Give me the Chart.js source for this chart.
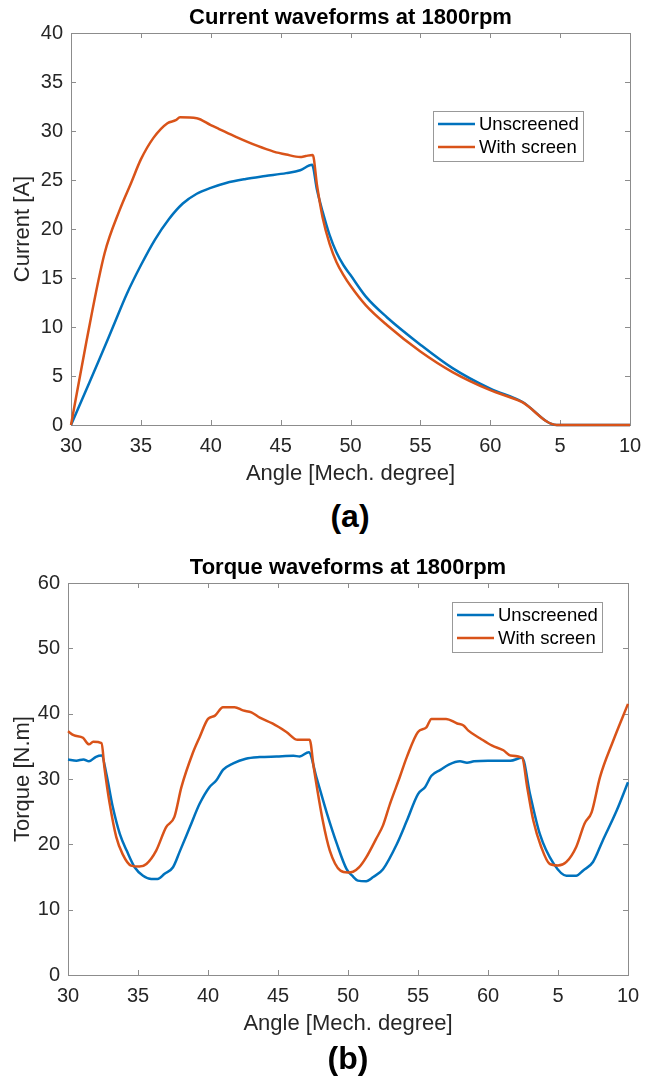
<!DOCTYPE html>
<html>
<head>
<meta charset="utf-8">
<script src="https://cdn.jsdelivr.net/npm/chart.js@4/dist/chart.umd.min.js"></script>
<style>
  body { margin: 0; background: #fff; }
  #wrap { position: relative; width: 654px; height: 1082px; overflow: hidden; background: #fff; }
  canvas { position: absolute; left: 0; }
  .cap { position: absolute; width: 100px; text-align: center; line-height: 36px;
         font: bold 32px "Liberation Sans", Arial, sans-serif; color: #000; }
</style>
</head>
<body>
<div id="wrap">
  <canvas id="chartA" width="654" height="495" style="top:0px"></canvas>
  <div class="cap" style="left:300px;top:498px">(a)</div>
  <canvas id="chartB" width="654" height="495" style="top:550px"></canvas>
  <div class="cap" style="left:298px;top:1040px">(b)</div>
</div>
<script>
// x axis: mechanical angle, wraps after 60 (65 -> 5, 70 -> 10)
const angleTicks = [30, 35, 40, 45, 50, 55, 60, 65, 70];

// current waveforms (a)
const curAngleUnscr = [30, 31, 32, 33, 34, 35, 36, 37, 38, 39, 40, 41.1, 42.5, 43.9, 45.4, 46.4, 47.25,
  47.6, 48.0, 48.5, 49.0, 49.5, 50, 51.1, 52.6, 55, 57.3, 60, 62.25, 64.75, 70];
const curUnscreened = [0, 3.3, 6.6, 10.0, 13.4, 16.3, 18.9, 21.0, 22.6, 23.6, 24.2, 24.7, 25.1, 25.4, 25.7, 26.0, 26.55,
  24.0, 21.8, 19.4, 17.6, 16.3, 15.3, 13.1, 11.0, 8.2, 5.8, 3.7, 2.4, 0, 0];
const curAngleScr = [30, 31.1, 32.4, 33.5, 34.3, 35, 35.9, 36.9, 37.5, 37.8, 39, 40, 40.6, 41.8, 43.3,
  44.5, 45.4, 46.4, 46.8, 47.3, 47.6, 48.0, 48.5, 49.0, 49.5, 50, 51.1, 52.6, 55, 57.3, 60, 62.25, 64.75, 70];
const curScreened = [0, 8.5, 17.5, 22.0, 24.7, 27.1, 29.3, 30.8, 31.1, 31.4, 31.3, 30.6, 30.2, 29.4, 28.5,
  27.9, 27.6, 27.35, 27.45, 27.55, 24.5, 21.2, 18.5, 16.6, 15.3, 14.2, 12.2, 10.2, 7.5, 5.4, 3.55, 2.35, 0, 0];

// torque waveforms (b)
const tqAngleUnscr = [30, 30.6, 31.1, 31.5, 32.0, 32.4, 32.74, 33.2, 33.7, 34.2, 34.76, 35.36, 35.95, 36.4,
  36.9, 37.5, 38.0, 38.7, 39.4, 40.1, 40.6, 41.07, 41.8, 42.7, 43.7, 44.9, 46.1, 46.55, 47.2,
  47.74, 48.5, 49.2, 49.9, 50.3, 50.7, 51.3, 51.8, 52.5, 53.5, 54.2, 55.0, 55.5, 55.96, 56.6, 57.2,
  58.0, 58.5, 59.0, 60.0, 61.6, 62.44, 63.0, 63.7, 64.7, 65.6, 66.3, 66.8, 67.5, 68.2, 69.2, 70];
const tqUnscreened = [33.0, 32.8, 33.0, 32.7, 33.4, 33.6, 30.8, 25.7, 21.6, 19.0, 16.5, 15.2, 14.7, 14.7,
  15.5, 16.5, 19.0, 22.6, 26.2, 28.75, 29.8, 31.4, 32.4, 33.1, 33.35, 33.45, 33.55, 33.45, 34.1,
  30.3, 24.7, 20.1, 16.2, 15.2, 14.45, 14.35, 15.0, 16.2, 20.1, 23.6, 27.7, 28.75, 30.5, 31.4, 32.2,
  32.7, 32.5, 32.7, 32.8, 32.8, 33.25, 27.7, 21.6, 17.0, 15.2, 15.2, 16.0, 17.3, 20.6, 25.2, 29.5];
const tqAngleScr = [30, 30.4, 31.07, 31.5, 31.8, 32.4, 32.6, 32.98, 33.45, 33.9, 34.5, 35.1, 35.6, 36.3,
  37.0, 37.6, 38.1, 38.9, 39.4, 40.0, 40.5, 41.07, 41.9, 42.5, 43.1, 43.7, 44.6, 45.6, 46.4, 47.26,
  47.55, 48.2, 48.7, 49.45, 50.0, 50.36, 50.8, 51.3, 52.0, 52.5, 53.0, 53.7, 54.2, 55.0, 55.6, 55.96,
  57.0, 57.8, 58.25, 58.6, 59.45, 60.3, 61.1, 61.6, 62.44, 62.8, 63.24, 63.8, 64.4, 65.0, 65.6, 66.3,
  66.9, 67.4, 68.0, 68.95, 70];
const tqScreened = [37.3, 36.7, 36.3, 35.3, 35.7, 35.5, 31.8, 26.2, 21.1, 18.5, 16.75, 16.6, 17.0, 19.05,
  22.6, 24.2, 28.75, 33.9, 36.4, 39.2, 39.7, 41.0, 41.0, 40.5, 40.2, 39.4, 38.5, 37.2, 36.0, 36.0,
  31.8, 23.6, 19.05, 16.0, 15.7, 15.8, 16.5, 18.0, 20.8, 22.9, 26.2, 30.3, 33.35, 37.2, 37.9, 39.2,
  39.2, 38.5, 38.2, 37.4, 36.2, 35.1, 34.4, 33.6, 33.25, 28.75, 23.6, 19.6, 17.0, 16.75, 17.3, 19.6,
  23.2, 24.9, 30.3, 35.9, 41.5];

const seriesNames = ["Unscreened", "With screen"];
const blue = "#0072BD";
const orange = "#D95319";
const axisGray = "#8c8c8c";
const fontFam = '"Liberation Sans", Arial, sans-serif';

Chart.defaults.font.family = fontFam;

function toPoints(xs, ys) {
  return xs.map((x, i) => ({ x: x, y: ys[i] }));
}

// box, inward ticks, title and legend the matlab way
const matlabAxes = {
  id: "matlabAxes",
  beforeDatasetsDraw(chart) {
    const ctx = chart.ctx;
    const a = chart.chartArea;
    ctx.save();
    ctx.strokeStyle = axisGray;
    ctx.lineWidth = 1;
    ctx.strokeRect(Math.round(a.left) + 0.5, Math.round(a.top) + 0.5,
      Math.round(a.right - a.left), Math.round(a.bottom - a.top));
    ctx.beginPath();
    chart.scales.x.ticks.forEach(t => {
      const px = Math.round(chart.scales.x.getPixelForValue(t.value)) + 0.5;
      ctx.moveTo(px, a.bottom); ctx.lineTo(px, a.bottom - 5);
      ctx.moveTo(px, a.top); ctx.lineTo(px, a.top + 5);
    });
    chart.scales.y.ticks.forEach(t => {
      const py = Math.round(chart.scales.y.getPixelForValue(t.value)) + 0.5;
      ctx.moveTo(a.left, py); ctx.lineTo(a.left + 5, py);
      ctx.moveTo(a.right, py); ctx.lineTo(a.right - 5, py);
    });
    ctx.stroke();
    ctx.restore();
  },
  afterDraw(chart, args, opts) {
    const ctx = chart.ctx;
    const a = chart.chartArea;
    ctx.save();
    // title
    ctx.fillStyle = "#000";
    ctx.font = "bold 22px " + fontFam;
    ctx.textAlign = "center";
    ctx.textBaseline = "middle";
    ctx.fillText(opts.title, (a.left + a.right) / 2, a.top - 15);
    // legend
    const bx = a.right - opts.legRight - 150;
    const by = a.top + opts.legTop;
    ctx.fillStyle = "#fff";
    ctx.fillRect(bx, by, 150, 50);
    ctx.strokeStyle = "#999";
    ctx.lineWidth = 1;
    ctx.strokeRect(bx + 0.5, by + 0.5, 150, 50);
    ctx.font = "18.5px " + fontFam;
    ctx.textAlign = "left";
    chart.data.datasets.forEach((ds, i) => {
      const ly = by + 13 + i * 23;
      ctx.strokeStyle = ds.borderColor;
      ctx.lineWidth = 2.5;
      ctx.beginPath();
      ctx.moveTo(bx + 5, ly);
      ctx.lineTo(bx + 42, ly);
      ctx.stroke();
      ctx.fillStyle = "#000";
      ctx.fillText(ds.label, bx + 46, ly + 1);
    });
    ctx.restore();
  }
};

function makeChart(id, unscr, scr, yMax, yStep, yTitle, yWidth, rightPad, plotTitle, legRight, legTop) {
  return new Chart(document.getElementById(id), {
    type: "line",
    data: {
      datasets: [
        { label: seriesNames[0], data: unscr, borderColor: blue, borderWidth: 2.5,
          pointRadius: 0, cubicInterpolationMode: "monotone", clip: 4, order: 1 },
        { label: seriesNames[1], data: scr, borderColor: orange, borderWidth: 2.5,
          pointRadius: 0, cubicInterpolationMode: "monotone", clip: 4, order: 0 }
      ]
    },
    options: {
      responsive: false,
      animation: false,
      devicePixelRatio: 1,
      layout: { padding: { top: 33, right: rightPad, left: 0, bottom: 0 } },
      plugins: {
        legend: { display: false },
        tooltip: { enabled: false },
        matlabAxes: { title: plotTitle, legRight: legRight, legTop: legTop }
      },
      scales: {
        x: {
          type: "linear",
          min: 30,
          max: 70,
          afterBuildTicks(scale) {
            scale.ticks = angleTicks.map(v => ({ value: v }));
          },
          afterFit(scale) { scale.height = 70; },
          grid: { display: false, drawTicks: false, tickLength: 0 },
          border: { display: false },
          ticks: {
            padding: 9,
            color: "#262626",
            font: { size: 20 },
            maxRotation: 0,
            autoSkip: false,
            callback: v => (v > 60 ? v - 60 : v)
          },
          title: {
            display: true,
            text: "Angle [Mech. degree]",
            color: "#262626",
            font: { size: 22 },
            padding: { top: 0, bottom: 8 }
          }
        },
        y: {
          min: 0,
          max: yMax,
          afterFit(scale) { scale.width = yWidth; },
          grid: { display: false, drawTicks: false, tickLength: 0 },
          border: { display: false },
          ticks: {
            stepSize: yStep,
            padding: 8,
            color: "#262626",
            font: { size: 20 }
          },
          title: {
            display: true,
            text: yTitle,
            color: "#262626",
            font: { size: 22 },
            padding: { top: 10, bottom: 0 }
          }
        }
      }
    },
    plugins: [matlabAxes]
  });
}

makeChart("chartA", toPoints(curAngleUnscr, curUnscreened), toPoints(curAngleScr, curScreened),
  40, 5, "Current [A]", 71, 24, "Current waveforms at 1800rpm", 47, 78);
makeChart("chartB", toPoints(tqAngleUnscr, tqUnscreened), toPoints(tqAngleScr, tqScreened),
  60, 10, "Torque [N.m]", 68, 26, "Torque waveforms at 1800rpm", 26, 19);
</script>
</body>
</html>
